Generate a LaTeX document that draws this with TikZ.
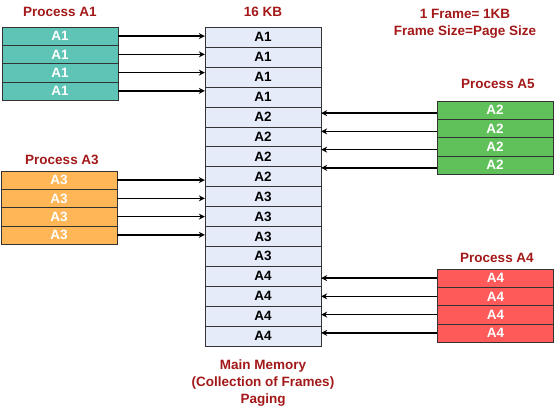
\documentclass[tikz,border=0pt]{standalone}
\usepackage{fontspec}
\setmainfont{Liberation Sans}
\usetikzlibrary{arrows.meta}

\definecolor{titlered}{HTML}{A31818}
\definecolor{memblue}{HTML}{E6EBFA}
\definecolor{tealc}{HTML}{5EC4B6}
\definecolor{greenc}{HTML}{60C05A}
\definecolor{orangec}{HTML}{FFB657}
\definecolor{redc}{HTML}{FF5A5A}

\tikzset{
	title/.style={text=titlered, font=\fontsize{13.5}{17}\selectfont\bfseries, inner sep=0pt},
	frame/.style={draw=black!80, fill=memblue, minimum width=116pt, minimum height=19.94pt, inner sep=0pt, font=\fontsize{13.5}{14}\selectfont\bfseries},
	page/.style={draw=black!80, minimum width=116pt, minimum height=18.25pt, inner sep=0pt, text=white, font=\fontsize{13.5}{14}\selectfont\bfseries},
	link/.style={-{Stealth[length=6pt,width=6pt]}, line width=1.5pt},
}

\begin{document}
\begin{tikzpicture}[x=1pt, y=-1pt]
	\useasboundingbox (0,0) rectangle (555,407);
	% main memory, 16 frames
	\foreach \i/\lab in {1/A1, 2/A1, 3/A1, 4/A1, 5/A2, 6/A2, 7/A2, 8/A2, 9/A3, 10/A3, 11/A3, 12/A3, 13/A4, 14/A4, 15/A4, 16/A4} {
		\node[frame] (m\i) at (263, {27+19.94*\i-9.97}) {\lab};
	}
	% processes and their pages
	\foreach \p/\lab/\col/\x/\y in {A1/A1/tealc/60/27, A3/A3/orangec/59/171, A5/A2/greenc/495/101, A4/A4/redc/495.5/269} {
		\foreach \k in {1,...,4} {
			\node[page, fill=\col] (\p-\k) at (\x, {\y+18.25*\k-9.125}) {\lab};
		}
	}
	\foreach \k in {1,...,4} {
		\draw[link] (A1-\k.east) -- (A1-\k.east -| m1.west);
		\draw[link] (A3-\k.east) -- (A3-\k.east -| m1.west);
		\draw[link] ([yshift=-3pt]A5-\k.west) -- ([yshift=-3pt]A5-\k.west -| m1.east);
		\draw[link] (A4-\k.west) -- (A4-\k.west -| m1.east);
	}
	% titles
	\node[title] (tA1) at (60,12) {Process A1};
	\node[title] (tmem) at (263,12) {16 KB};
	\node[title, align=center] (tinfo) at (465,24) {1 Frame= 1KB\\Frame Size=Page Size};
	\node[title] (tA5) at (498,84) {Process A5};
	\node[title] (tA3) at (62,160) {Process A3};
	\node[title] (tA4) at (497,258) {Process A4};
	\node[title, align=center] (caption) at (263,383) {Main Memory\\(Collection of Frames)\\Paging};
\end{tikzpicture}
\end{document}
